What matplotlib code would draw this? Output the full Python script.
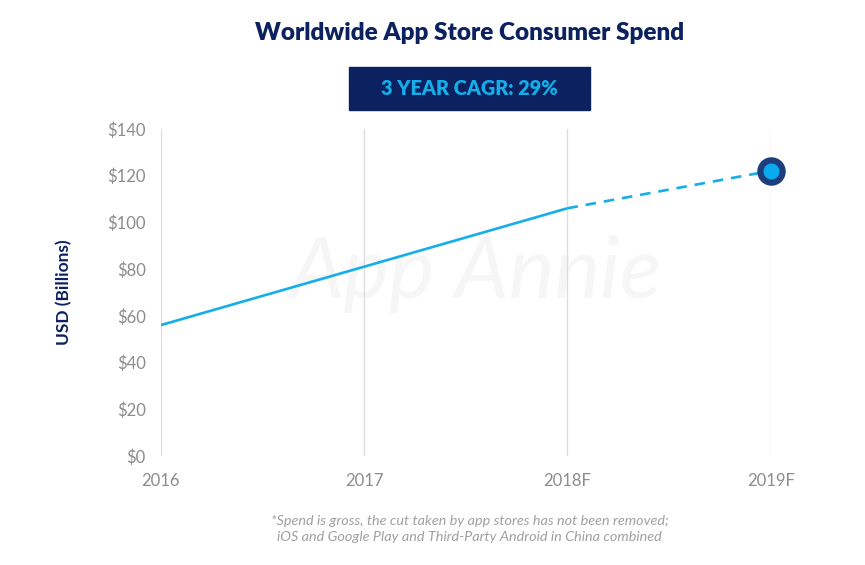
import matplotlib
matplotlib.use("Agg")
import matplotlib.pyplot as plt
from matplotlib.patches import Rectangle

plt.rcParams['font.family'] = ['Lato', 'DejaVu Sans']

years = ['2016', '2017', '2018F', '2019F']
spend = [56, 81, 106, 122]
yticks = [0, 20, 40, 60, 80, 100, 120, 140]
ylabels = ['$' + str(v) for v in yticks]

navy = '#0c2260'
cyan = '#14aee8'
gray = '#8c8c8c'

fig = plt.figure(figsize=(8.65, 5.65), dpi=100)
ax = fig.add_axes([0.186, 0.193, 0.705, 0.579])

x = list(range(len(years)))
# actual part solid, forecast dashed
ax.plot(x[:3], spend[:3], color=cyan, lw=1.9, solid_capstyle='butt', zorder=3)
ax.plot(x[2:], spend[2:], color=cyan, lw=1.9, ls=(0, (4, 3)), zorder=3)
ax.plot(x[3], spend[3], 'o', ms=16, mfc='#0aaaf0', mec='#1d3d7c', mew=4.5,
        zorder=4, clip_on=False)

for xi in x:
    ax.axvline(xi, color='#dddddd', lw=1, zorder=1)

ax.set_xlim(0, 3)
ax.set_ylim(0, 140)
ax.set_xticks(x)
ax.set_xticklabels(years)
ax.set_yticks(yticks)
ax.set_yticklabels(ylabels)
ax.tick_params(length=0, colors=gray, labelsize=12)
ax.tick_params(axis='x', pad=12)
ax.tick_params(axis='y', pad=11)
for s in ax.spines.values():
    s.set_visible(False)

ax.set_ylabel('USD (Billions)', color=navy, fontsize=12.5, fontweight='bold', labelpad=25)

# faint watermark
ax.text(1.55, 78, 'App Annie', fontsize=62, style='italic', color='#f6f6f6',
        ha='center', va='center', zorder=0)

fig.text(0.543, 0.941, 'Worldwide App Store Consumer Spend', ha='center', va='center',
         fontsize=17.5, fontweight='heavy', color=navy)
fig.patches.append(Rectangle((0.4035, 0.805), 0.2786, 0.0761, transform=fig.transFigure,
                             color=navy, zorder=0))
fig.text(0.543, 0.843, '3 YEAR CAGR: 29%', ha='center', va='center',
         fontsize=14.3, fontweight='heavy', color=cyan)

fig.text(0.543, 0.064, '*Spend is gross, the cut taken by app stores has not been removed;\n'
         'iOS and Google Play and Third-Party Android in China combined',
         ha='center', va='center', fontsize=10.4, style='italic', color='#a0a0a0', linespacing=1.4)

fig.savefig('out.png', dpi=100, facecolor='white')
